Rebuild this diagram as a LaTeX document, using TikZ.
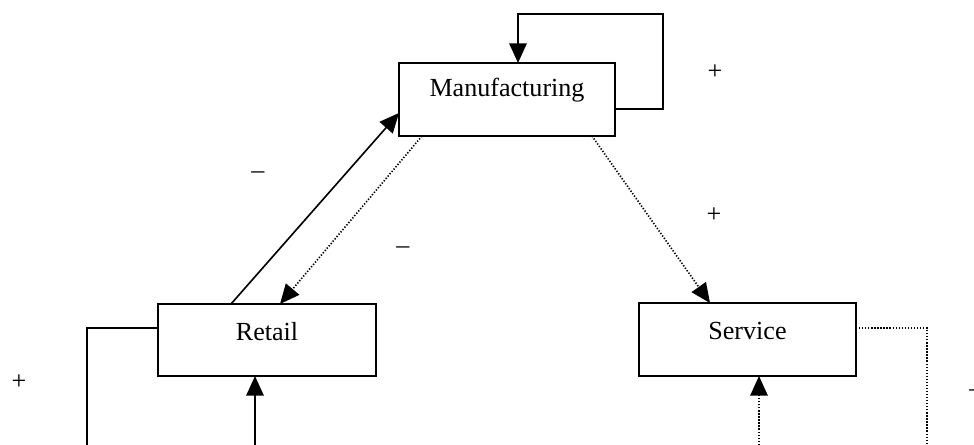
\documentclass[tikz,border=0pt]{standalone}
\usepackage{fontspec}
\setmainfont{Liberation Serif}
\usetikzlibrary{arrows.meta,calc}
\begin{document}
\begin{tikzpicture}[x=0.46pt,y=-0.46pt,
  box/.style={draw,line width=0.75pt,rectangle,inner sep=0pt,outer sep=0pt},
  txt/.style={font=\fontsize{12}{14}\selectfont,inner sep=0pt},
  solidcon/.style={line width=0.75pt},
  dotcon/.style={line width=0.75pt,dash pattern=on 0.6pt off 0.8pt},
  tip/.style={-{Triangle[length=9pt,width=8pt]}}]
\useasboundingbox (0,0) rectangle (974,444);
% boxes
\node[box,minimum width=216*0.46pt,minimum height=73*0.46pt] (manu) at (507,99.5) {};
\node[box,minimum width=218*0.46pt,minimum height=72*0.46pt] (retail) at (267,340) {};
\node[box,minimum width=217*0.46pt,minimum height=73*0.46pt] (service) at (747.5,339.5) {};
\node[txt] (manut) at (507,90) {Manufacturing};
\node[txt] (retailt) at (267,332) {Retail};
\node[txt] (servicet) at (747.5,331) {Service};
% connectors
\draw[solidcon,tip] ($(retail.north west)+(73,0)$) -- ($(manu.south west)+(0,-23)$);
\draw[dotcon,tip] ($(manu.south west)+(23,0)$) -- ($(retail.north west)+(122,0)$);
\draw[dotcon,tip] ($(manu.south west)+(193,0)$) -- ($(service.north west)+(71,0)$);
\coordinate (l1) at (663,109);
\coordinate (l2) at (663,14);
\coordinate (l3) at (518,14);
\draw[solidcon,tip] ($(manu.south east)+(0,-27)$) -- (l1) -- (l2) -- (l3) -- ($(manu.north west)+(119,0)$);
\coordinate (r1) at (87,328);
\coordinate (r2) at (87,445);
\draw[solidcon] ($(retail.north west)+(0,24)$) -- (r1) -- (r2);
\coordinate (r3) at (255,445);
\draw[solidcon,tip] (r3) -- ($(retail.south west)+(97,0)$);
\coordinate (s1) at (927,328);
\coordinate (s2) at (927,445);
\draw[dotcon] ($(service.north east)+(0,25)$) -- (s1) -- (s2);
\coordinate (s3) at (759,445);
\draw[dotcon,tip] (s3) -- ($(service.south west)+(120,0)$);
% labels
\node[txt] (p1) at (715,72) {+};
\node[txt] (p2) at (714,215) {+};
\node[txt] (p3) at (19,382) {+};
\node[txt] (m1) at (258,175) {–};
\node[txt] (m2) at (403,250) {–};
\node[txt] (m3) at (976,393) {–};
\end{tikzpicture}
\end{document}
